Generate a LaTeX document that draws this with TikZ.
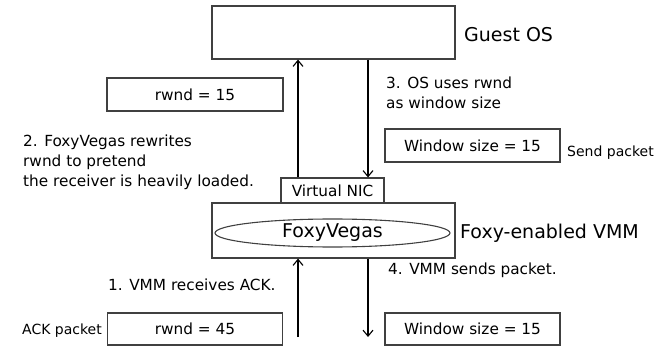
\documentclass[tikz,border=0pt]{standalone}
\usepackage{fontspec}
\setmainfont{DejaVu Sans}
\usetikzlibrary{arrows.meta,shapes.geometric}

\tikzset{
  box/.style={draw=black!75, line width=1.2pt, inner sep=0pt, font=\fontsize{15.3}{18}\selectfont},
  flow/.style={line width=1.1pt, -{Straight Barb[length=6pt,width=10pt]}},
  note/.style={anchor=west, inner sep=0pt, align=left, font=\fontsize{15.3}{20}\selectfont},
  biglabel/.style={anchor=west, inner sep=0pt, font=\fontsize{19}{22}\selectfont},
  smalllabel/.style={anchor=west, inner sep=0pt, font=\fontsize{14}{16}\selectfont},
}

\begin{document}
\begin{tikzpicture}[x=1pt,y=-1pt]
  \useasboundingbox (0,0) rectangle (663,347);

  % guest side
  \node[box, minimum width=243pt, minimum height=53pt] (guest) at (333.5,32.5) {};
  \node[biglabel] (guestlbl) at (464,35) {Guest OS};
  \node[box, minimum width=176pt, minimum height=33pt] (rwndtop) at (195,94.5) {rwnd = 15};
  \node[note] (step2) at (23,162) {2. FoxyVegas rewrites\\rwnd to pretend\\the receiver is heavily loaded.};
  \node[note] (step3) at (386,93) {3. OS uses rwnd\\as window size};
  \node[box, minimum width=175pt, minimum height=33pt] (wintop) at (472.5,145.5) {Window size = 15};
  \node[smalllabel] (sendlbl) at (567,153) {Send packet};

  % the VMM
  \node[box, minimum width=103pt, minimum height=25pt] (nic) at (332.5,190.5) {Virtual NIC};
  \node[box, minimum width=243pt, minimum height=55pt] (vmm) at (333.5,230.5) {};
  \node[draw=black!75, line width=1.1pt, ellipse, inner sep=0pt, minimum width=235pt, minimum height=28pt,
        font=\fontsize{19}{22}\selectfont] (foxy) at (332.5,233) {FoxyVegas};
  \node[biglabel] (vmmlbl) at (460,233) {Foxy-enabled VMM};

  % wire side
  \node[note] (step1) at (108,285) {1. VMM receives ACK.};
  \node[note] (step4) at (388,270) {4. VMM sends packet.};
  \node[smalllabel] (acklbl) at (22,331) {ACK packet};
  \node[box, minimum width=175pt, minimum height=32pt] (rwndbot) at (195,329) {rwnd = 45};
  \node[box, minimum width=175pt, minimum height=32pt] (winbot) at (472.5,329) {Window size = 15};

  \coordinate (upx) at (298,0);
  \coordinate (downx) at (368,0);
  \coordinate (ackin) at (298,337);
  \coordinate (pktout) at (368,337);

  \draw[flow] (upx |- nic.north) -- (upx |- guest.south);
  \draw[flow] (downx |- guest.south) -- (downx |- nic.north);
  \draw[flow] (ackin) -- (ackin |- vmm.south);
  \draw[flow] (downx |- vmm.south) -- (pktout);
\end{tikzpicture}
\end{document}
